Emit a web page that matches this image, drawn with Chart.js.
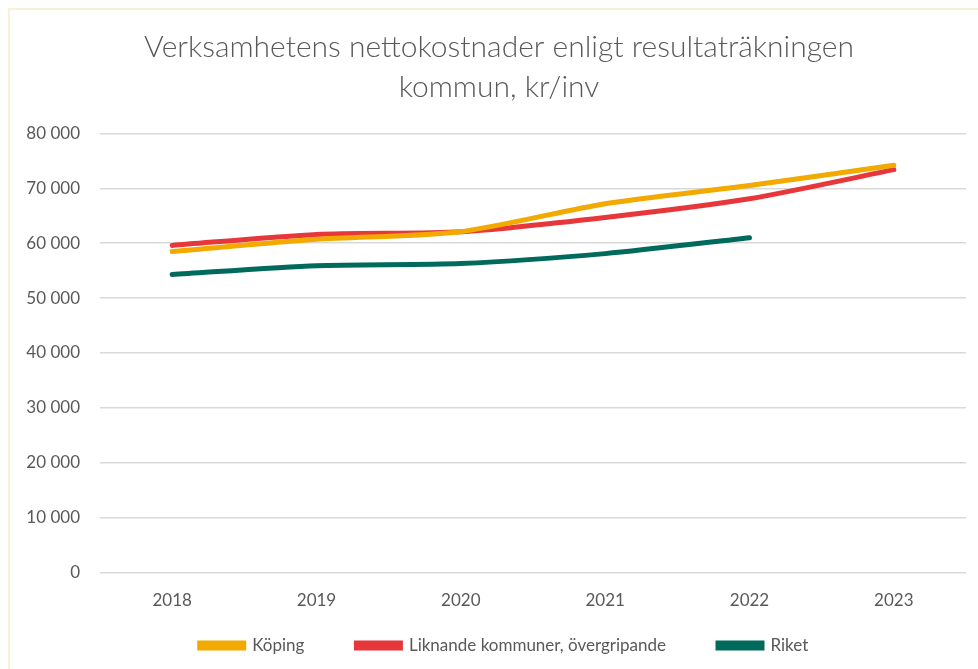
<!DOCTYPE html>
<html>
<head>
<meta charset="utf-8">
<script src="https://cdn.jsdelivr.net/npm/chart.js@4/dist/chart.umd.min.js"></script>
<style>
  html, body { margin: 0; padding: 0; background: #ffffff; overflow: hidden; }
  #frame { position: absolute; left: 8px; top: 8px; width: 1000px; height: 700px; border: 2px solid #FCEFD8; box-sizing: border-box; }
  #wrap { position: absolute; left: 0; top: 0; width: 978px; height: 669px; }
</style>
</head>
<body>
<div id="frame"></div>
<div id="wrap"><canvas id="c" width="978" height="669"></canvas></div>
<script>
const categories = ['2018', '2019', '2020', '2021', '2022', '2023'];
const koping = [58500, 60700, 62100, 67200, 70500, 74200];
const liknande = [59600, 61600, 62100, 64700, 68100, 73400];
const riket = [54300, 55900, 56300, 58100, 61000, null];
const seriesNames = ['Köping', 'Liknande kommuner, övergripande', 'Riket'];
const titleLines = ['Verksamhetens nettokostnader enligt resultaträkningen', 'kommun, kr/inv'];

const FONT = "Lato, 'Open Sans', sans-serif";
const TXT = '#595959';

function fmt(v) {
  return String(v).replace(/\B(?=(\d{3})+(?!\d))/g, ' ');
}

const colors = ['#F2A900', '#E8373A', '#006A5D'];
const datasets = [koping, liknande, riket].map((d, i) => ({
  label: seriesNames[i],
  data: d,
  borderColor: colors[i],
  backgroundColor: colors[i],
  borderWidth: 5,
  pointRadius: 0,
  pointHoverRadius: 0,
  tension: 0.25,
  borderCapStyle: 'round',
  spanGaps: false,
  fill: false
}));

// nudges the title and legend boxes after layout (the frame is wider than the window)
const nudge = {
  id: 'nudge',
  afterLayout(chart) {
    const t = chart.titleBlock;
    if (t) { t.left += 11; t.right += 11; }
    const lg = chart.legend;
    if (lg) {
      lg.left += 16; lg.right += 16;
      lg.top = 585; lg.bottom = 669;
    }
  }
};

new Chart(document.getElementById('c'), {
  type: 'line',
  data: { labels: categories, datasets: datasets },
  plugins: [nudge],
  options: {
    responsive: false,
    animation: false,
    devicePixelRatio: 1,
    layout: { padding: { left: 10, right: 12, top: 0, bottom: 8 } },
    plugins: {
      tooltip: { enabled: false },
      title: {
        display: true,
        text: titleLines,
        color: TXT,
        font: { family: FONT, size: 30, weight: '300', lineHeight: 1.34 },
        padding: { top: 27, bottom: 26 }
      },
      legend: {
        position: 'bottom',
        maxHeight: 40,
        labels: {
          color: TXT,
          font: { family: FONT, size: 17 },
          boxWidth: 44,
          boxHeight: 5,
          padding: 52
        }
      }
    },
    scales: {
      x: {
        offset: true,
        grid: { display: false },
        border: { display: false },
        ticks: { color: TXT, font: { family: FONT, size: 17 }, padding: 10 }
      },
      y: {
        min: 0,
        max: 80000,
        afterFit: (s) => { s.width = 90; },
        grid: { color: '#D9D9D9', lineWidth: 1.5, drawTicks: false },
        border: { display: false },
        ticks: {
          stepSize: 10000,
          color: TXT,
          padding: 20,
          font: { family: FONT, size: 17 },
          callback: (v) => fmt(v)
        }
      }
    }
  }
});
</script>
</body>
</html>
